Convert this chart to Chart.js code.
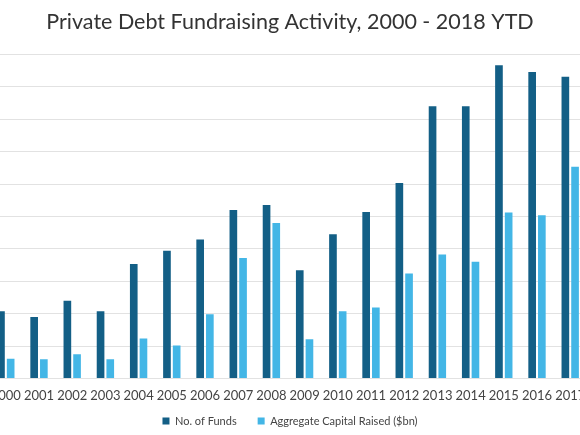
<!DOCTYPE html>
<html>
<head>
<meta charset="utf-8">
<script src="https://cdn.jsdelivr.net/npm/chart.js@4"></script>
<style>
html,body{margin:0;padding:0;background:#fff;}
#wrap{position:relative;width:580px;height:435px;}
</style>
</head>
<body>
<div id="wrap"><canvas id="c"></canvas></div>
<script>
const years = ["2000","2001","2002","2003","2004","2005","2006","2007","2008","2009","2010","2011","2012","2013","2014","2015","2016","2017"];
const funds = [41.5, 38, 48, 41.5, 70.7, 78.8, 85.8, 104, 107, 66.8, 89, 102.8, 120.7, 168, 168, 193.2, 189.1, 186.2];
const capital = [12.3, 11.9, 15, 11.9, 24.7, 20.4, 39.7, 74.3, 95.9, 24.3, 41.5, 43.8, 64.8, 76.5, 72, 102.5, 100.8, 130.6];
const seriesNames = ["No. of Funds", "Aggregate Capital Raised ($bn)"];

const toPts = arr => arr.map((v, i) => ({x: i, y: v}));

const X_AXIS_H = 30;
const legendShift = {
  id: 'legendShift',
  afterLayout(chart) {
    const lg = chart.legend;
    if (!lg) return;
    const dy = (chart.chartArea.bottom + 15.9) - lg.top;
    lg.top += dy;
    lg.bottom += dy;
  }
};

new Chart(document.getElementById('c'), {
  type: 'bar',
  data: {
    datasets: [
      {label: seriesNames[0], data: toPts(funds), backgroundColor: '#135f86', borderWidth: 0,
       categoryPercentage: 0.584, barPercentage: 0.79},
      {label: seriesNames[1], data: toPts(capital), backgroundColor: '#43b6e6', borderWidth: 0,
       categoryPercentage: 0.584, barPercentage: 0.79}
    ]
  },
  plugins: [legendShift],
  options: {
    responsive: true,
    maintainAspectRatio: false,
    animation: false,
    layout: {padding: {left: 0, right: 0, top: 0, bottom: -15.6}},
    plugins: {
      title: {
        display: true,
        text: 'Private Debt Fundraising Activity, 2000 - 2018 YTD',
        color: '#333333',
        font: {family: 'Lato', size: 21.5, weight: 'normal'},
        padding: {top: 9, bottom: 19.5}
      },
      legend: {
        position: 'bottom',
        labels: {
          color: '#444444',
          font: {family: 'Lato', size: 11},
          boxWidth: 7,
          boxHeight: 7,
          padding: 21
        }
      },
      tooltip: {enabled: false}
    },
    scales: {
      x: {
        type: 'linear',
        offset: false,
        min: -0.175,
        max: 17.295,
        grid: {display: false, drawTicks: false, offset: false},
        border: {display: false},
        afterBuildTicks: s => { s.ticks = years.map((_, i) => ({value: i})); },
        afterFit: s => { s.height = X_AXIS_H; s.paddingLeft = 0; s.paddingRight = 0; },
        ticks: {
          autoSkip: false,
          maxRotation: 0,
          padding: 9.5,
          color: '#444444',
          font: {family: 'Lato', size: 13},
          callback: v => years[v]
        }
      },
      y: {
        min: 0,
        max: 200,
        afterFit: s => { s.width = 0; },
        grid: {color: '#e2e2e2', lineWidth: 1, drawTicks: false},
        border: {display: false},
        ticks: {display: false, stepSize: 20}
      }
    }
  }
});
</script>
</body>
</html>
